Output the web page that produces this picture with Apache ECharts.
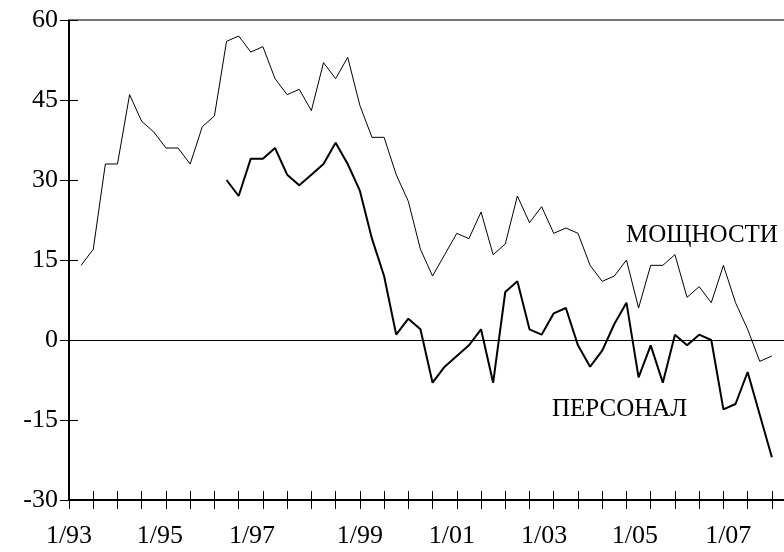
<!DOCTYPE html>
<html>
<head>
<meta charset="utf-8" />
<title>Мощности и персонал</title>
<script src="https://cdn.jsdelivr.net/npm/echarts@6/dist/echarts.min.js"></script>
<style>
	html, body { margin: 0; padding: 0; background: #fff; }
	#chart { width: 784px; height: 552px; }
</style>
</head>
<body>
<div id="chart"></div>
<script>
	// квартальные ряды, индекс 0 = 1 кв. 1993
	var capStart = 1;
	var capacity = [14, 17, 33, 33, 46, 41, 39, 36, 36, 33,
		40, 42, 56, 57, 54, 55, 49, 46, 47, 43,
		52, 49, 53, 44, 38, 38, 31, 26, 17, 12,
		16, 20, 19, 24, 16, 18, 27, 22, 25, 20,
		21, 20, 14, 11, 12, 15, 6, 14, 14, 16,
		8, 10, 7, 14, 7, 2, -4, -3];
	var staffStart = 13;
	var staff = [30, 27, 34, 34, 36, 31, 29, 31, 33, 37,
		33, 28, 19, 12, 1, 4, 2, -8, -5, -3,
		-1, 2, -8, 9, 11, 2, 1, 5, 6, -1,
		-5, -2, 3, 7, -7, -1, -8, 1, -1, 1,
		0, -13, -12, -6, -14, -22];
	var xLabels = ['1/93', '1/95', '1/97', '1/99', '1/01', '1/03', '1/05', '1/07'];
	// где подписи стоят на исходной картинке (в кварталах)
	var xLabelAt = [0, 7.5, 15.1, 24, 31.6, 39.2, 46.7, 54.4];
	var yTicks = [-30, -15, 0, 15, 30, 45, 60];

	function toPoints(start, arr) {
		return arr.map(function (v, i) { return [start + i, v]; });
	}
	var halfYears = [];
	for (var q = 0; q <= 58; q += 2) halfYears.push(q);

	var serif = '"Liberation Serif", "DejaVu Serif", serif';
	var chart = echarts.init(document.getElementById('chart'));
	var option = {
		animation: false,
		backgroundColor: '#fff',
		grid: { left: 69, right: 0, top: 20, bottom: 52 },
		xAxis: [
			{
				type: 'value', min: 0, max: 59, position: 'bottom',
				axisLine: { onZero: false, lineStyle: { color: '#000', width: 2 } },
				axisTick: { customValues: halfYears, length: 9, lineStyle: { color: '#000', width: 1 } },
				axisLabel: {
					customValues: xLabelAt, margin: 23,
					fontFamily: serif, fontSize: 26, color: '#000',
					formatter: function (v) {
						var i = xLabelAt.indexOf(v);
						return i >= 0 ? xLabels[i] : '';
					}
				},
				splitLine: { show: false }
			},
			{
				type: 'value', min: 0, max: 59, position: 'bottom',
				axisLine: { show: false, onZero: false },
				axisTick: { customValues: halfYears, inside: true, length: 9, lineStyle: { color: '#000', width: 1 } },
				axisLabel: { show: false },
				splitLine: { show: false }
			},
			{
				type: 'value', min: 0, max: 59, position: 'top',
				axisLine: { onZero: false, lineStyle: { color: '#777', width: 2 } },
				axisTick: { show: false },
				axisLabel: { show: false },
				splitLine: { show: false }
			}
		],
		yAxis: [
			{
				type: 'value', min: yTicks[0], max: yTicks[yTicks.length - 1], interval: 15,
				axisLine: { show: true, onZero: false, lineStyle: { color: '#000', width: 2 } },
				axisTick: { show: true, length: 9, lineStyle: { color: '#000', width: 1 } },
				axisLabel: { margin: 11, fontFamily: serif, fontSize: 26, color: '#000' },
				splitLine: { show: false }
			},
			{
				type: 'value', min: yTicks[0], max: yTicks[yTicks.length - 1], interval: 15,
				position: 'left',
				axisLine: { show: false, onZero: false },
				axisTick: { show: true, inside: true, length: 9, lineStyle: { color: '#000', width: 1 } },
				axisLabel: { show: false },
				splitLine: { show: false }
			}
		],
		series: [
			{
				name: 'МОЩНОСТИ', type: 'line', data: toPoints(capStart, capacity),
				showSymbol: false, symbol: 'none',
				lineStyle: { color: '#000', width: 1 },
				markLine: {
					silent: true, symbol: ['none', 'none'], label: { show: false },
					lineStyle: { color: '#000', width: 1, type: 'solid' },
					data: [{ yAxis: 0 }]
				}
			},
			{
				name: 'ПЕРСОНАЛ', type: 'line', data: toPoints(staffStart, staff),
				showSymbol: false, symbol: 'none',
				lineStyle: { color: '#000', width: 2 }
			}
		],
		graphic: [
			{ type: 'text', left: 626, top: 223, style: { text: 'МОЩНОСТИ', font: '25px ' + serif, fill: '#000' } },
			{ type: 'text', left: 552, top: 397, style: { text: 'ПЕРСОНАЛ', font: '25px ' + serif, fill: '#000' } }
		]
	};
	chart.setOption(option);
</script>
</body>
</html>
